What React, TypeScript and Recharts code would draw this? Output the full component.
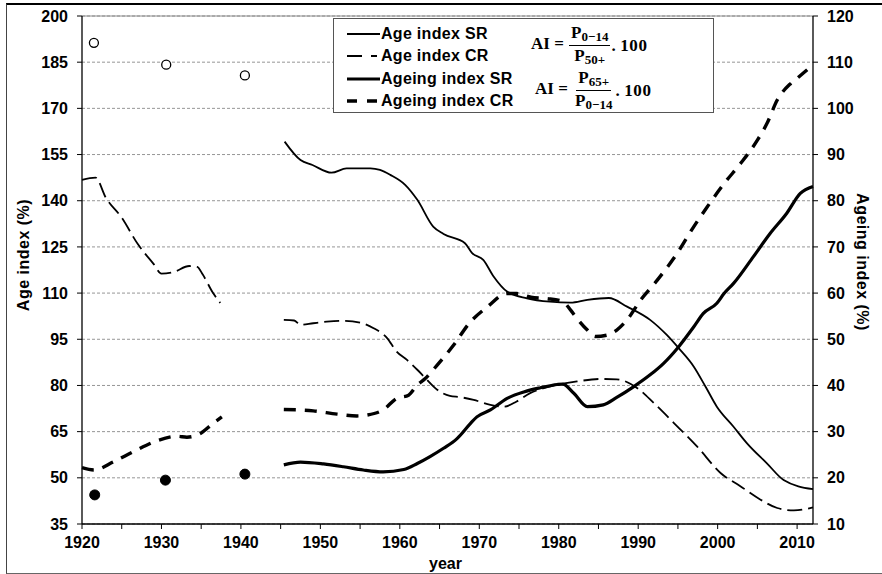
import React from 'react';
import { ComposedChart, Line, XAxis, YAxis, CartesianGrid, Legend, ReferenceLine } from 'recharts';

// ---------- data ----------
const xTicks = [1920, 1925, 1930, 1935, 1940, 1945, 1950, 1955, 1960, 1965, 1970, 1975, 1980, 1985, 1990, 1995, 2000, 2005, 2010];
const leftTicks = [35, 50, 65, 80, 95, 110, 125, 140, 155, 170, 185, 200];
const rightTicks = [10, 20, 30, 40, 50, 60, 70, 80, 90, 100, 110, 120];

// Age index SR (left axis)
const ageSrYears = [1945.5, 1947.5, 1949, 1951.4, 1953.3, 1956.3, 1957.5, 1958.8, 1960.7, 1962.2, 1964.2, 1965.5, 1968.2, 1969.1, 1970.5, 1971.8, 1973.5, 1976, 1978.9, 1981.5, 1983.6, 1986.3, 1988.6, 1991.5, 1993.6, 1995.1, 1997, 1998.5, 1999.9, 2002, 2003.7, 2006.2, 2008.3, 2012];
const ageSrValues = [159.2, 153.2, 151.6, 149.1, 150.5, 150.5, 150, 148.4, 145.1, 140.3, 131.6, 129.2, 126.2, 123, 120.8, 115.4, 110.5, 108.3, 107.2, 106.9, 107.8, 108.4, 105.6, 101.3, 96.4, 92.1, 86.1, 79.5, 73.1, 66.6, 61.2, 54.7, 49.3, 46.3];

// Age index CR (left axis), two segments
const ageCrYears1 = [1920, 1921.7, 1923, 1925, 1927, 1929, 1930, 1931.5, 1933.5, 1934.5, 1935.2, 1936.5, 1937.4];
const ageCrValues1 = [146.8, 147.5, 141, 134.5, 126, 119.5, 116.3, 116.8, 118.8, 118.5, 116, 110, 106.8];
const ageCrYears2 = [1945.4, 1946.7, 1947.5, 1949.1, 1950.8, 1952.9, 1955, 1956.7, 1958.4, 1959.6, 1960.9, 1962.2, 1963.2, 1964.7, 1966.3, 1967.6, 1969.3, 1971.4, 1973.1, 1974.7, 1976.4, 1978.1, 1979.8, 1982.3, 1985.2, 1987.3, 1989.9, 1992, 1994.5, 1997.4, 2000.4, 2002.9, 2005.4, 2007.5, 2009.6, 2012];
const ageCrValues2 = [101.3, 101.1, 99.7, 100.2, 100.7, 101, 100.4, 98.6, 95.4, 91, 88.3, 85.1, 82.4, 78.6, 76.6, 76.2, 75.3, 73.7, 73.1, 74.8, 77.5, 79.1, 80.2, 81.3, 82.1, 82, 79.1, 74.2, 67.8, 60.2, 51.5, 47.2, 42.9, 40.2, 39.4, 40.4];

// Ageing index SR (right axis)
const ageingSrYears = [1945.4, 1947.5, 1950.4, 1952.9, 1955.4, 1957.9, 1960.5, 1962.2, 1963.8, 1965.5, 1967.2, 1968.9, 1969.7, 1971.4, 1973.5, 1975.6, 1977.7, 1979.8, 1980.5, 1981.9, 1983.6, 1985.6, 1987.3, 1989.4, 1991.5, 1993.2, 1995.1, 1997, 1998.2, 1999.9, 2000.8, 2002, 2004.5, 2006.6, 2008.7, 2010.4, 2012];
const ageingSrValues = [22.8, 23.4, 23, 22.4, 21.7, 21.3, 21.8, 23.1, 24.6, 26.4, 28.5, 31.8, 33.2, 34.7, 37.2, 38.6, 39.5, 40.2, 40.3, 38.3, 35.4, 35.8, 37.4, 39.7, 42.3, 44.8, 48.4, 52.7, 55.6, 57.8, 59.9, 62.1, 67.9, 72.9, 77.3, 81.6, 83.1];

// Ageing index CR (right axis), two segments
const ageingCrYears1 = [1920, 1921.5, 1924, 1926.4, 1929.4, 1932, 1933.2, 1934.9, 1936.5, 1937.6];
const ageingCrValues1 = [22.2, 21.7, 23.5, 25.6, 28, 29, 28.8, 29.6, 31.8, 33.2];
const ageingCrYears2 = [1945.4, 1949.1, 1952.1, 1954.6, 1955.9, 1957.9, 1959.6, 1961.1, 1962.2, 1963.2, 1964.7, 1966.8, 1968.7, 1971, 1973.5, 1974.7, 1976.5, 1978.5, 1980.5, 1981.5, 1982.3, 1983.6, 1984.6, 1986.1, 1987.3, 1988.6, 1990.3, 1992.4, 1994.9, 1997, 1998.7, 2000.8, 2002.9, 2005, 2006.2, 2007.5, 2009.2, 2010.2, 2011.7];
const ageingCrValues2 = [34.8, 34.5, 33.8, 33.4, 33.6, 34.7, 37.2, 37.9, 40.1, 41.5, 44.4, 48.8, 53.4, 57, 59.9, 59.9, 59.1, 58.8, 58.2, 56.3, 54.5, 52, 50.6, 50.9, 52, 54.2, 58.5, 62.8, 68.6, 74.4, 78.7, 83.7, 88.1, 93.1, 96.7, 101.8, 105.4, 106.8, 109];

// census points
const ageCensusYears = [1921.5, 1930.6, 1940.5];
const ageCensusValues = [191.3, 184.2, 180.7];
const ageingCensusYears = [1921.6, 1930.5, 1940.5];
const ageingCensusValues = [16.3, 19.5, 20.8];

const gapYear = 1941;

const seriesNames = ['Age index SR', 'Age index CR', 'Ageing index SR', 'Ageing index CR'];
const legendSamples = [
  { width: 1.8, dash: undefined },
  { width: 1.8, dash: '15 9 6 100' },
  { width: 3.2, dash: undefined },
  { width: 3.6, dash: '10 10 10 100' },
];

// ---------- helpers ----------
type Pt = { x: number; y: number | null };
const toPoints = (xs: number[], ys: number[]): Pt[] => xs.map((x, i) => ({ x, y: ys[i] }));
const joinSegments = (a: Pt[], b: Pt[]): Pt[] => [...a, { x: gapYear, y: null }, ...b];

const ageSrData = toPoints(ageSrYears, ageSrValues);
const ageCrData = joinSegments(toPoints(ageCrYears1, ageCrValues1), toPoints(ageCrYears2, ageCrValues2));
const ageingSrData = toPoints(ageingSrYears, ageingSrValues);
const ageingCrData = joinSegments(toPoints(ageingCrYears1, ageingCrValues1), toPoints(ageingCrYears2, ageingCrValues2));
const ageCensusData = toPoints(ageCensusYears, ageCensusValues);
const ageingCensusData = toPoints(ageingCensusYears, ageingCensusValues);

const SANS = '"Liberation Sans", Arial, sans-serif';
const SERIF = '"Liberation Serif", "Times New Roman", serif';
const tickStyle = { fill: '#000', fontSize: 16, fontWeight: 700, fontFamily: SANS };

const subStyle: React.CSSProperties = { fontSize: 13, position: 'relative', top: 3, verticalAlign: 'baseline' };

const Fraction = ({ num, numSub, den, denSub }: { num: string; numSub: string; den: string; denSub: string }) => (
  <span style={{ display: 'inline-flex', flexDirection: 'column', alignItems: 'center', margin: '0 1px' }}>
    <span style={{ padding: '0 2px 2px', borderBottom: '1.3px solid #000', lineHeight: '18px' }}>
      {num}<span style={subStyle}>{numSub}</span>
    </span>
    <span style={{ padding: '1px 2px 0', lineHeight: '18px' }}>
      {den}<span style={subStyle}>{denSub}</span>
    </span>
  </span>
);

const Formula = ({ top, left, num, numSub, den, denSub }: any) => (
  <div style={{ position: 'absolute', top, left, fontFamily: SERIF, fontWeight: 700, fontSize: 17, display: 'flex', alignItems: 'center', whiteSpace: 'nowrap' }}>
    <span style={{ marginTop: -2 }}>AI&nbsp;=&nbsp;</span>
    <Fraction num={num} numSub={numSub} den={den} denSub={denSub} />
    <span style={{ marginTop: 1, letterSpacing: 0.6 }}>.&thinsp;100</span>
  </div>
);

const LegendBox = () => {
  const rowY = [15, 37, 60, 82];
  return (
    <div style={{ position: 'relative', width: 381, height: 95, boxSizing: 'border-box', border: '1.5px solid #555', background: '#fff' }}>
      {seriesNames.map((name: string, i: number) => (
        <div key={name} style={{ position: 'absolute', left: 13, top: rowY[i] - 10, height: 20, display: 'flex', alignItems: 'center', fontFamily: SANS, fontWeight: 700, fontSize: 16, whiteSpace: 'nowrap' }}>
          <svg width={34} height={10} style={{ display: 'block' }}>
            <line x1={0} y1={5} x2={33} y2={5} stroke="#000" strokeWidth={legendSamples[i].width} strokeDasharray={legendSamples[i].dash} />
          </svg>
          <span style={{ letterSpacing: 0.3 }}>{name}</span>
        </div>
      ))}
      <Formula top={5} left={197} num="P" numSub="0−14" den="P" denSub="50+" />
      <Formula top={50} left={201} num="P" numSub="65+" den="P" denSub="0−14" />
    </div>
  );
};

const LeftTitle = (p: any) => {
  const vb = p.viewBox || { x: 22, y: 16, width: 60, height: 508 };
  const x = vb.x + 1;
  const y = vb.y + vb.height / 2 - 15;
  return (
    <text x={x} y={y} transform={`rotate(-90 ${x} ${y})`} textAnchor="middle" dominantBaseline="central" style={{ ...tickStyle, letterSpacing: 0.5 }}>
      Age index (%)
    </text>
  );
};

const RightTitle = (p: any) => {
  const vb = p.viewBox || { x: 813, y: 16, width: 50, height: 508 };
  const x = vb.x + 49;
  const y = vb.y + vb.height / 2 - 8;
  return (
    <text x={x} y={y} transform={`rotate(90 ${x} ${y})`} textAnchor="middle" dominantBaseline="central" style={{ ...tickStyle, letterSpacing: 0.5 }}>
      Ageing index (%)
    </text>
  );
};

const BottomTitle = (p: any) => {
  const vb = p.viewBox || { x: 82, y: 524, width: 731, height: 30 };
  const x = vb.x + vb.width / 2 - 2;
  const y = vb.y + 39;
  return (
    <text x={x} y={y} textAnchor="middle" dominantBaseline="central" style={tickStyle}>
      year
    </text>
  );
};

export default function App() {
  return (
    <div style={{ position: 'fixed', left: 0, top: 0, width: 882, height: 574, background: '#fff', overflow: 'hidden' }}>
      <div style={{ position: 'absolute', left: 6, top: 3, width: 900, height: 571, boxSizing: 'border-box', borderTop: '2px solid #000', borderLeft: '1.5px solid #444', borderBottom: '1.5px solid #666' }} />
      <ComposedChart
        width={882}
        height={574}
        margin={{ top: 16, right: 19, bottom: 20, left: 22 }}
        style={{ position: 'absolute', left: 0, top: 0 }}
      >
        <CartesianGrid yAxisId="left" vertical={false} stroke="#8a8a8a" strokeDasharray="3 2" strokeWidth={0.9} />
        <XAxis
          dataKey="x"
          type="number"
          domain={[1920, 2012]}
          ticks={xTicks}
          tickFormatter={(v: number) => (v % 10 === 0 ? String(v) : '')}
          allowDecimals={false}
          interval={0}
          tick={tickStyle}
          tickSize={5}
          tickMargin={8}
          height={30}
          axisLine={{ stroke: '#000', strokeWidth: 1.3 }}
          tickLine={{ stroke: '#000', strokeWidth: 1 }}
          label={{ content: BottomTitle }}
        />
        <YAxis
          yAxisId="left"
          orientation="left"
          domain={[35, 200]}
          ticks={leftTicks}
          interval={0}
          width={60}
          tick={tickStyle}
          tickSize={5}
          tickMargin={9}
          axisLine={{ stroke: '#000', strokeWidth: 1.3 }}
          tickLine={{ stroke: '#000', strokeWidth: 1 }}
          label={{ content: LeftTitle }}
        />
        <YAxis
          yAxisId="right"
          orientation="right"
          domain={[10, 120]}
          ticks={rightTicks}
          interval={0}
          width={50}
          tick={tickStyle}
          tickSize={5}
          tickMargin={9}
          axisLine={{ stroke: '#000', strokeWidth: 1.3 }}
          tickLine={{ stroke: '#000', strokeWidth: 1 }}
          label={{ content: RightTitle }}
        />
        <ReferenceLine yAxisId="left" y={200} stroke="#8a8a8a" strokeWidth={1} />
        <Legend
          layout="horizontal"
          verticalAlign="middle"
          align="center"
          content={LegendBox}
          wrapperStyle={{ left: 333, top: 18, width: 381, height: 95 }}
        />
        <Line name="Age index SR" data={ageSrData} dataKey="y" yAxisId="left" type="monotone" stroke="#000" strokeWidth={1.8} dot={false} isAnimationActive={false} />
        <Line name="Age index CR" data={ageCrData} dataKey="y" yAxisId="left" type="monotone" stroke="#000" strokeWidth={1.8} strokeDasharray="15 6" dot={false} isAnimationActive={false} />
        <Line name="Ageing index SR" data={ageingSrData} dataKey="y" yAxisId="right" type="monotone" stroke="#000" strokeWidth={3.2} dot={false} isAnimationActive={false} />
        <Line name="Ageing index CR" data={ageingCrData} dataKey="y" yAxisId="right" type="monotone" stroke="#000" strokeWidth={3.4} strokeDasharray="12 9" dot={false} isAnimationActive={false} />
        <Line name="Age index census" legendType="none" data={ageCensusData} dataKey="y" yAxisId="left" stroke="none" dot={{ r: 4.5, fill: '#fff', stroke: '#000', strokeWidth: 1.3 }} isAnimationActive={false} />
        <Line name="Ageing index census" legendType="none" data={ageingCensusData} dataKey="y" yAxisId="right" stroke="none" dot={{ r: 5, fill: '#000', stroke: '#000', strokeWidth: 1 }} isAnimationActive={false} />
      </ComposedChart>
    </div>
  );
}
